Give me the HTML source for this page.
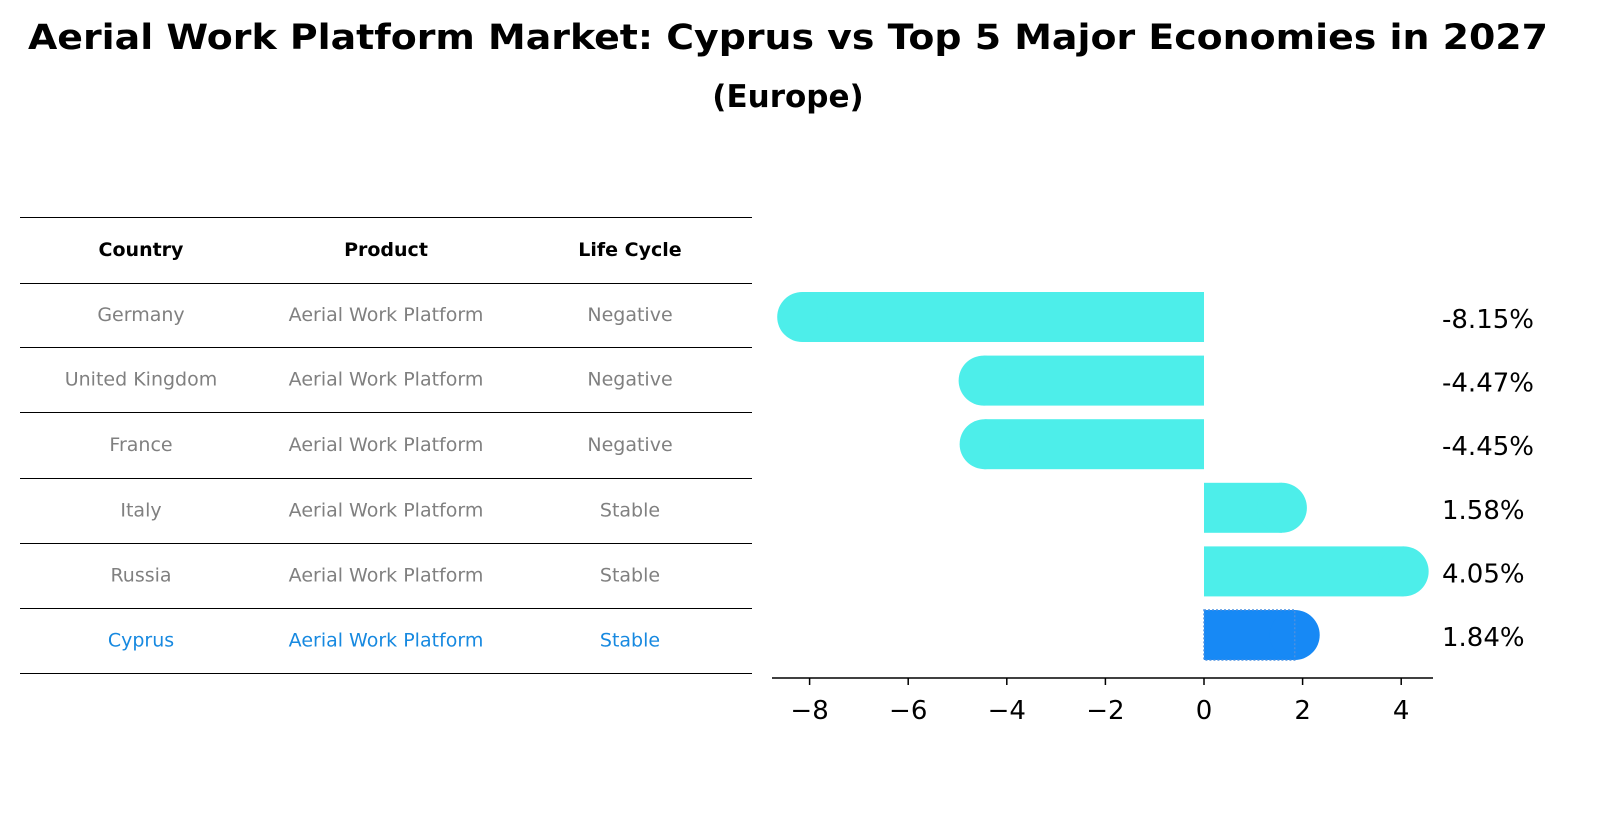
<!DOCTYPE html>
<html><head><meta charset="utf-8"><style>
body{margin:0;background:#fff;font-family:"DejaVu Sans","Liberation Sans",sans-serif}
#c{position:relative;width:1607px;height:823px}
</style></head><body>
<div id="c">
<svg width="1607" height="823">
<text x="788" y="49" text-anchor="middle" font-size="35" font-weight="bold" textLength="1520" lengthAdjust="spacingAndGlyphs">Aerial Work Platform Market: Cyprus vs Top 5 Major Economies in 2027</text>
<text x="788" y="107" text-anchor="middle" font-size="31" font-weight="bold">(Europe)</text>
<g id="table"></g>
<g id="bars"></g>
</svg></div>
<script>
const countries=["Germany","United Kingdom","France","Italy","Russia","Cyprus"];
const products=["Aerial Work Platform","Aerial Work Platform","Aerial Work Platform","Aerial Work Platform","Aerial Work Platform","Aerial Work Platform"];
const lifecycle=["Negative","Negative","Negative","Stable","Stable","Stable"];
const values=[-8.15,-4.47,-4.45,1.58,4.05,1.84];
const ticks=[-8,-6,-4,-2,0,2,4];
const NS="http://www.w3.org/2000/svg";
function mk(t,a,p,txt){const e=document.createElementNS(NS,t);for(const k in a)e.setAttribute(k,a[k]);if(txt!=null)e.textContent=txt;p.appendChild(e);return e;}
const tb=document.getElementById('table'), bg=document.getElementById('bars');
const lineYs=[217,283,347,412,478,543,608,673];
lineYs.forEach((y,i)=>{const l=mk('line',{x1:20,x2:752,y1:y+0.5,y2:y+0.5,stroke:'#000','stroke-width':1},tb);

});
const colX=[141,386,630];
["Country","Product","Life Cycle"].forEach((h,i)=>{const t=mk('text',{x:colX[i],y:256,'text-anchor':'middle','font-size':19,'font-weight':'bold'},tb,h);

});
countries.forEach((c,r)=>{const y=(lineYs[r+1]+lineYs[r+2])/2+6;const col=r===5?'#1789e0':'#808080';
[c,products[r],lifecycle[r]].forEach((v,i)=>{const t=mk('text',{x:colX[i],y:y,'text-anchor':'middle','font-size':19,fill:col},tb,v);

});});
const x0=1204,ppu=49.3;const X=v=>x0+v*ppu;
const rowY=r=>317+r*63.6;const h=50,rad=25;
values.forEach((v,r)=>{const cy=rowY(r),xe=X(v),col=r===5?'#1789f5':'#4deeea';
const g=mk('g',{},bg);


const a=Math.min(x0,xe),w=Math.abs(xe-x0);
mk('rect',{x:a,y:cy-h/2,width:w,height:h,fill:col},g);
mk('circle',{cx:xe,cy:cy,r:rad,fill:col},g);
if(r===5)mk('rect',{x:a,y:cy-h/2,width:w,height:h,fill:'none',stroke:'#4a90e2','stroke-width':1.5,'stroke-dasharray':'2,2'},g);
const t=mk('text',{x:1442,y:cy+11,'font-size':26},bg,(v).toFixed(2)+'%');

});
const ax=mk('line',{x1:772,x2:1433,y1:678,y2:678,stroke:'#000','stroke-width':1.5},bg);


ticks.forEach(tk=>{const tl=mk('line',{x1:X(tk),x2:X(tk),y1:678,y2:685,stroke:'#000','stroke-width':1.5},bg);


const t=mk('text',{x:X(tk),y:719,'text-anchor':'middle','font-size':26},bg,tk<0?'\u2212'+Math.abs(tk):String(tk));

});
</script>
</body></html>
